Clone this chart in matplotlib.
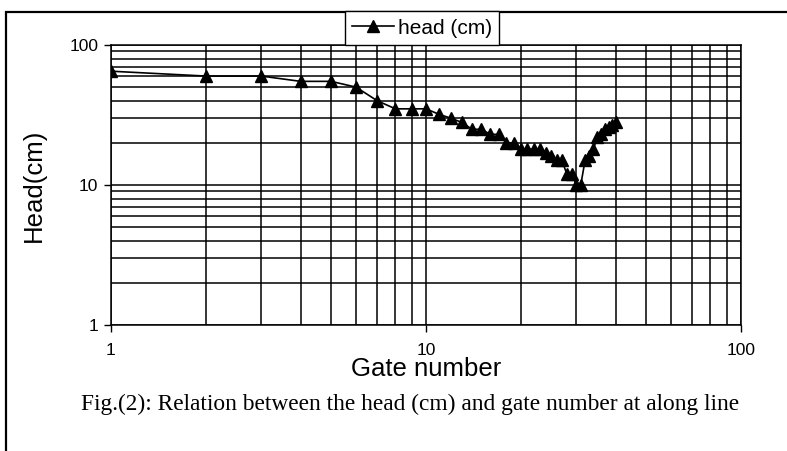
import numpy as np
import matplotlib.pyplot as plt
from matplotlib.patches import Rectangle
from matplotlib.ticker import LogLocator, FixedLocator, NullFormatter

# data
gate = np.arange(1, 41)
head = [65, 60, 60, 55, 55, 50, 40, 35, 35, 35,
        32, 30, 28, 25, 25, 23, 23, 20, 20, 18,
        18, 18, 18, 17, 16, 15, 15, 12, 12, 10,
        10, 15, 16, 18, 22, 23, 25, 26, 27, 28]
major_ticks = [1, 10, 100]
tick_labels = ['1', '10', '100']

plt.rcParams['font.family'] = ['Liberation Sans', 'DejaVu Sans']

fig = plt.figure(figsize=(7.87, 4.51), dpi=100)
ax = fig.add_axes([0.141, 0.2794, 0.8005, 0.6208])

ax.plot(gate, head, 'k-', marker='^', markersize=8.5, linewidth=1.2,
        label='head (cm)')

ax.set_xscale('log')
ax.set_yscale('log')
ax.set_xlim(1, 100)
ax.set_ylim(1, 100)

for axis in (ax.xaxis, ax.yaxis):
    axis.set_major_locator(FixedLocator(major_ticks))
    axis.set_minor_locator(LogLocator(base=10, subs=np.arange(2, 10)))
    axis.set_minor_formatter(NullFormatter())
ax.set_xticklabels(tick_labels)
ax.set_yticklabels(tick_labels)

ax.grid(True, which='both', color='black', linewidth=1.1)
ax.tick_params(which='major', direction='out', length=5, width=1,
               labelsize=12.5)
ax.tick_params(axis='x', which='major', pad=8)
ax.tick_params(axis='y', which='major', pad=4)
ax.tick_params(which='minor', length=0)
for s in ax.spines.values():
    s.set_color('black')
    s.set_linewidth(1.1)

ax.set_xlabel('Gate number', fontsize=18.5, labelpad=-1)
ax.set_ylabel('Head(cm)', fontsize=18.5, labelpad=17)

fig.legend(loc='upper center', bbox_to_anchor=(0.536, 0.975),
           fontsize=15, frameon=True, fancybox=False, edgecolor='black',
           framealpha=1, handlelength=2.0, handletextpad=0.2,
           borderpad=0.35, borderaxespad=0)

fig.text(0.521, 1 - 404 / 451, 'Fig.(2): Relation between the head (cm) and gate number at along line',
         ha='center', va='center', fontsize=16.8, family='Liberation Serif')

# outer frame
fig.patches.append(Rectangle((6 / 787, -0.2), 1.2, 1 - 12 / 451 + 0.2,
                             transform=fig.transFigure, fill=False,
                             edgecolor='black', linewidth=1.6))

fig.savefig('out.png', dpi=100)
